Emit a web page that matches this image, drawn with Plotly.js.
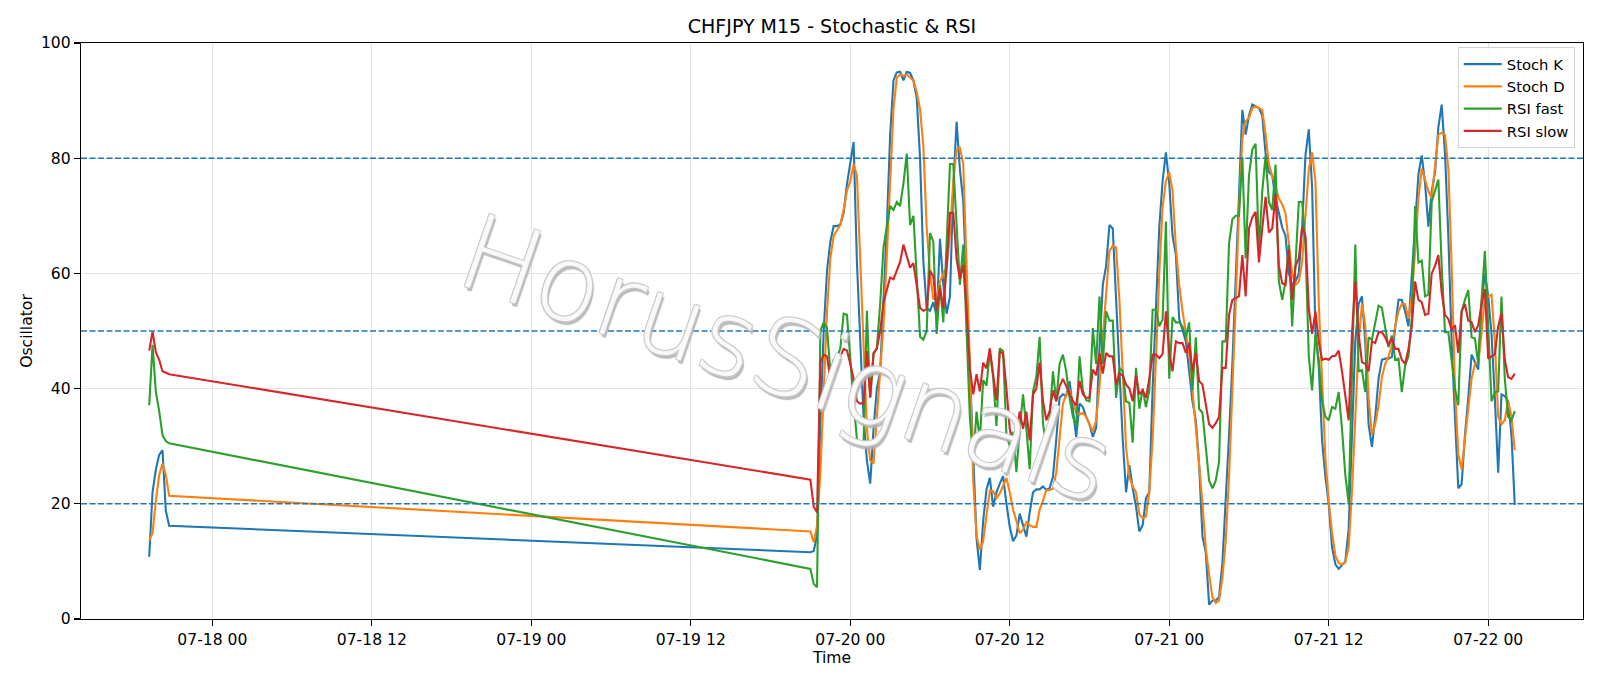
<!DOCTYPE html>
<html>
<head>
<meta charset="utf-8">
<script src="https://cdn.plot.ly/plotly-3.0.1.min.js"></script>
<style>html,body{margin:0;padding:0;background:#fff;}#chart{width:1600px;height:686px;}</style>
</head>
<body>
<div id="chart"></div>
<script>
// ---- data (M15 bars) ----
const segStarts = ['2020-07-17T19:15:00Z', '2020-07-19T21:00:00Z'];
const segLengths = [7, 213];

const stochK = [
  10.8, 22, 26, 28.5, 29.3, 18.8, 16.2,
  11.6, 11.8, 14.5, 34, 50, 60.5, 65.5, 68.2, 68.2, 68.5,
  70.5, 75.5, 79, 82.8, 62, 48, 35, 27.5, 23.5, 33,
  40, 43, 55, 68, 84, 93.5, 94.9, 95, 93.5, 95,
  94.8, 93.5, 90.5, 80, 62, 54, 53.5, 55, 52.5, 66,
  58, 53, 56, 75, 86.3, 78, 72.5, 58, 42, 28,
  14, 8.5, 17, 22.5, 24.5, 19.5, 22, 23.5, 24.8, 20,
  16, 13.5, 14.5, 18.3, 16.5, 14.3, 18.5, 22, 22.5, 22.5,
  23, 22.4, 22.7, 24.7, 31.2, 38.4, 39, 38.7, 41.3, 36.5,
  31.6, 37.4, 36.8, 35.1, 33.8, 31.6, 33.2, 46.9, 58, 61.3,
  68.4, 67.8, 54.7, 43, 31.2, 22, 26.7, 22.7, 19.5, 15.2,
  16.3, 21, 22, 40, 55, 68, 76, 81, 75.6, 66.5,
  63.2, 52.1, 50.2, 48.2, 43, 37.8, 34.5, 26.7, 14.3, 11.6,
  2.5, 3.2, 3.2, 3.8, 9.7, 20.1, 31.9, 44.3, 60, 75,
  88.4, 84.1, 87.4, 89.3, 89, 88.7, 87.4, 80.8, 77.6, 77,
  73, 70.4, 68, 66.5, 60, 58, 58.6, 60, 68, 80.5,
  85, 75, 50, 44, 31, 24.7, 20, 12.5, 9.5, 8.7,
  9.4, 10, 15.6, 33.2, 48.2, 54.7, 56, 48, 33.8, 29.9,
  35.1, 41.7, 45, 45.2, 45.2, 45.5, 50.8, 55.4, 55.4, 53.4,
  50.8, 60, 67.8, 77.2, 80.5, 75.6, 68.1, 74.3, 77.6, 85.4,
  89.3, 80.8, 66.5, 48.2, 35.1, 22.7, 23.4, 31.9, 38.4, 45.9,
  44.6, 43.3, 54.7, 60, 56, 49.5, 38.4, 25.4, 39, 38.7,
  37.8, 31.9, 19.8
];

const stochD = [
  13.6, 14.9, 20.5, 25, 27, 25, 21.4,
  15.2, 13.3, 16.2, 25.4, 38.4, 53.4, 62.6, 66.5, 67.5, 68.4,
  71, 74.3, 76, 79, 77, 62, 45, 33, 27.5, 27,
  35, 43, 51, 63, 77, 88.5, 94, 94.5, 94.3, 94.5,
  94, 93.5, 91.5, 88.5, 82, 68, 60, 55.5, 56, 58.5,
  60, 61, 67, 76, 81.5, 81.8, 79, 63, 44, 24,
  14.5, 12, 13.5, 18, 22.3, 22.2, 21, 21.8, 23.2, 24.5,
  22, 19, 17, 14.9, 15.5, 16.8, 16.3, 16, 16, 19,
  20.5, 22.4, 22.4, 22.6, 25.4, 31.2, 37.4, 39, 39.7, 37.8,
  35.8, 35.5, 35.8, 35.1, 33.8, 32.5, 34.5, 40.4, 48.9, 57.3,
  63.9, 64.8, 64.5, 55.4, 41.7, 29.9, 24.7, 23, 22, 18.2,
  17.5, 17.8, 22, 31.2, 45, 60, 71.5, 76, 77.6, 74.3,
  64.5, 58, 53.4, 49.5, 46.2, 39.7, 32.5, 26.7, 20.1, 12.3,
  7.7, 3.8, 2.8, 3.2, 7.1, 13.6, 24.7, 38.4, 54.7, 71,
  83.4, 86.4, 87, 88.7, 89, 88.7, 88.4, 84.1, 78.9, 77,
  75, 73, 72, 70.4, 65.2, 60, 58, 58.6, 62, 70,
  78, 81, 76, 55, 40, 28, 20.5, 15, 11, 9.7,
  9.5, 9.8, 12.5, 22, 35, 48, 54.7, 51, 38.4, 32,
  33.8, 37, 42, 44.3, 45.6, 47.5, 50.8, 53.4, 54.7, 54.7,
  52.1, 56, 63.9, 73, 78.2, 76.3, 74.3, 73, 78.9, 84.1,
  84.4, 84.1, 78.2, 61.3, 40, 28.6, 26, 31.9, 36.5, 41.7,
  44.3, 44.5, 49.5, 56, 56, 56.3, 48.2, 35.1, 33.8, 34.5,
  37.8, 35.1, 29.3
];

const rsiFast = [
  37.1, 47.6, 39.4, 36.1, 31.9, 30.9, 30.5,
  8.7, 6.1, 5.5, 50, 51.5, 50.5, 43, 45, 45.3, 47,
  53, 52.8, 45, 37.8, 31.2, 30.6, 30.5, 53.5, 38.4, 46.2,
  47, 54.7, 64.5, 67.8, 71.7, 71, 72.4, 71.7, 75.6, 80.8,
  68.4, 70, 60, 49, 48.5, 50, 67, 65.5, 49.5, 58,
  51.5, 65, 79, 79, 67.5, 58, 65, 50, 35, 27.5,
  36, 31, 41.5, 40.5, 46.5, 42, 33.5, 47, 46.5, 32,
  30, 32.5, 25.5, 33, 39, 33, 26, 39.5, 42, 49,
  34, 29.9, 35, 43, 37.8, 44.3, 45.9, 43, 38.4, 35.1,
  33.5, 45.6, 39.7, 38, 37.8, 50.5, 44.3, 56, 44.3, 53.4,
  51.8, 51.8, 38.4, 43.6, 43, 37.8, 37.5, 30.6, 43.6, 36.5,
  40, 36.8, 39.7, 53.7, 53.7, 50.8, 52, 69, 41.7, 52.4,
  51.5, 51.5, 50.8, 48.9, 51.5, 39.7, 48.9, 36.5, 35.8, 29.9,
  24, 22.7, 24, 27.3, 48.2, 48.2, 65.2, 69.4, 70, 70,
  80.2, 62.6, 77, 81.5, 82.5, 63.9, 74.3, 80.5, 72.4, 71,
  78.9, 58.6, 55.4, 58.6, 64.9, 50.8, 61.3, 72.4, 72.4, 65.2,
  45.6, 39.7, 49.5, 45, 37.8, 35.1, 34.5, 36.8, 36.5, 39.4,
  33, 25, 20.1, 45, 65, 43, 43.2, 39.4, 48.9, 48.5,
  51.5, 54.4, 54, 50.8, 47.2, 49.2, 45, 45.2, 39.4, 44,
  45.6, 52.1, 71.7, 61.9, 62.2, 56, 56.3, 72.4, 74.3, 76.3,
  61.3, 49.8, 49.8, 44.3, 40, 37.1, 53.4, 55.4, 57.1, 48.9,
  48.7, 44.3, 55.4, 63.9, 50.8, 37.8, 39.4, 39.5, 56, 41.7,
  35.1, 34.5, 36.1
];

const rsiSlow = [
  46.6, 49.9, 46.3, 45, 43, 42.7, 42.5,
  24.2, 19.5, 18.5, 44.5, 45.9, 45.6, 41.7, 43, 43.3, 45.6,
  46.9, 46.6, 44.3, 41.7, 37.8, 37.4, 37.5, 46.5, 38.5, 46,
  47, 50, 55, 57, 59.3, 59, 60.5, 62, 65, 63,
  61, 61.8, 58, 54, 53.5, 53.8, 60.5, 59.5, 53.5, 57.5,
  54, 61, 70.5, 70.5, 62.5, 59, 61.5, 54, 43.5, 39,
  42.5, 39.5, 44.5, 43.5, 47, 42.5, 38, 46.5, 46, 40,
  33, 30.5, 32, 36, 33, 36, 31, 39, 40, 44.5,
  37.8, 34.5, 36.1, 39.7, 37.8, 40.4, 41.7, 40.4, 39, 37.8,
  37.1, 41.3, 39, 38.4, 38.4, 43.3, 42.3, 46.2, 42.6, 46.2,
  45.6, 45.6, 40.7, 42.6, 42.3, 40.7, 40, 37.8, 42.3, 39,
  39.7, 38.4, 41.7, 45.9, 45.9, 45.3, 46, 53.4, 46.2, 43,
  48.2, 47.9, 47.9, 46.2, 47.9, 43, 46.2, 41.3, 40.7, 37.1,
  33.8, 33.2, 34, 35.1, 43.6, 43.6, 52.8, 55.4, 55.7, 56,
  63.2, 56, 67.8, 69.7, 70.7, 61.9, 67.8, 73.3, 67.1, 67.8,
  73.7, 61.3, 58.3, 58, 64.2, 55.4, 61.3, 62.6, 68.1, 66.5,
  54, 49.5, 53.4, 48.2, 45, 45.2, 45, 45.6, 45.7, 46.6,
  43, 39, 34.5, 49.5, 58.6, 49.5, 44.6, 44.3, 43, 48.2,
  47.9, 49.8, 49.8, 48.9, 47.5, 48.8, 46.9, 46.9, 45, 44.3,
  46.9, 50.8, 58.6, 55.4, 55, 52.8, 53, 60, 61.3, 63.2,
  56.7, 52.8, 52.1, 50.2, 51, 46.2, 53.4, 54.7, 51.8, 51.5,
  49.8, 51, 54.7, 57.3, 45.2, 45.6, 45.9, 50.8, 53.1, 45,
  42, 41.7, 42.6
];

const seriesNames = ['Stoch K', 'Stoch D', 'RSI fast', 'RSI slow'];
const seriesColors = ['#1f77b4', '#ff7f0e', '#2ca02c', '#d62728'];
const levels = [20, 50, 80];
const yTicks = [0, 20, 40, 60, 80, 100];

// ---- timestamps for the bars (15-minute steps in each session) ----
const times = [];
segStarts.forEach((s, k) => {
  const t0 = Date.parse(s);
  for (let j = 0; j < segLengths[k]; j++) {
    times.push(new Date(t0 + j * 900000).toISOString().slice(0, 19).replace('T', ' '));
  }
});

const values = [stochK, stochD, rsiFast, rsiSlow];
const traces = values.map((v, k) => ({
  type: 'scatter', mode: 'lines', x: times, y: v, name: seriesNames[k],
  line: {color: seriesColors[k], width: 2.1}
}));

const font = 'DejaVu Sans, Liberation Sans, sans-serif';
const axisCommon = {
  showline: true, mirror: true, linecolor: '#000', linewidth: 1.2,
  ticks: 'outside', ticklen: 6, tickwidth: 1.2, tickcolor: '#000',
  showgrid: true, gridcolor: '#e4e4e4', gridwidth: 1, zeroline: false,
  tickfont: {family: font, size: 15.6, color: '#000'}
};

const layout = {
  width: 1600, height: 686,
  margin: {l: 81, r: 17, t: 43, b: 67},
  paper_bgcolor: '#fff', plot_bgcolor: '#fff',
  title: {text: 'CHFJPY M15 - Stochastic & RSI', x: 0.52, xref: 'container', xanchor: 'center',
          y: 1 - 26 / 686, yref: 'container', yanchor: 'middle',
          font: {family: font, size: 19, color: '#000'}},
  xaxis: Object.assign({}, axisCommon, {
    type: 'date', range: ['2020-07-17 14:07', '2020-07-22 07:08'],
    tick0: '2020-07-18 00:00', dtick: 43200000, tickformat: '%m-%d %H',
    title: {text: 'Time', font: {family: font, size: 15.6, color: '#000'}, standoff: 3}
  }),
  yaxis: Object.assign({}, axisCommon, {
    range: [0, 100], tickvals: yTicks, ticktext: yTicks.map(String),
    title: {text: 'Oscillator', font: {family: font, size: 15.6, color: '#000'}, standoff: 4}
  }),
  shapes: levels.map(v => ({
    type: 'line', xref: 'paper', x0: 0, x1: 1, yref: 'y', y0: v, y1: v,
    line: {color: '#1f77b4', width: 1.5, dash: '6px,2.5px'}, layer: 'above'
  })),
  legend: {
    x: 0.9945, xanchor: 'right', y: 0.993, yanchor: 'top',
    itemwidth: 38,
    bgcolor: 'rgba(255,255,255,0.85)', bordercolor: '#d3d3d3', borderwidth: 1,
    font: {family: font, size: 14.8, color: '#000'}
  },
  annotations: [{
    text: 'HorusSignals', xref: 'paper', yref: 'paper', x: 0.47, y: 0.452,
    showarrow: false, textangle: 19,
    font: {family: font, size: 105, weight: 200, color: 'rgba(255,255,255,0.88)',
           shadow: '-1px -1px 0 #c8c8c8, 1px -1px 0 #c8c8c8, -1px 1px 0 #c8c8c8, 1px 1px 0 #c8c8c8, 3px 3px 1px #b0b0b0'}
  }],
  showlegend: true
};

Plotly.newPlot('chart', traces, layout, {staticPlot: true, displayModeBar: false});
</script>
</body>
</html>
